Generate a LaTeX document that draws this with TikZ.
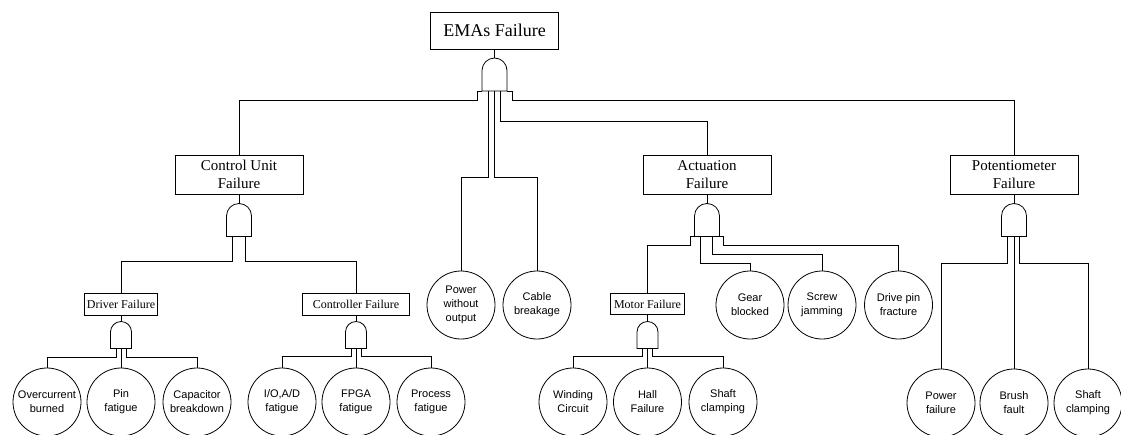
\documentclass[tikz,border=0pt]{standalone}
\usepackage{fontspec}
\setmainfont{Liberation Serif}
\newfontfamily\sansf{Liberation Sans}
\begin{document}
\begin{tikzpicture}[x=1pt,y=-1pt,line width=0.8pt,
  bigbox/.style={draw,rectangle,align=center,inner sep=0pt,minimum width=128pt,minimum height=39pt,font=\fontsize{15}{18}\selectfont},
  smallbox/.style={draw,rectangle,align=center,inner sep=0pt,minimum height=21.5pt,font=\fontsize{12}{14}\selectfont},
  bigand/.style={rectangle,inner sep=0pt,outer sep=0pt,minimum width=25pt,minimum height=33pt},
  smalland/.style={rectangle,inner sep=0pt,outer sep=0pt,minimum width=21pt,minimum height=27pt},
  event/.style={draw,circle,inner sep=0pt,minimum size=68pt,align=center,font=\sansf\fontsize{11}{14}\selectfont}]
\newcommand{\drawgate}[2]{\draw (#1.south west) -- ([yshift=-#2pt]#1.north west) arc[start angle=180,end angle=0,radius=#2pt] -- (#1.south east) -- cycle;}
\useasboundingbox (0,0) rectangle (1121,434);
\clip (0,0) rectangle (1121,434);

% top
\node[bigbox,minimum height=37pt,font=\fontsize{18}{21}\selectfont] (ema) at (494.5,30.5) {EMAs Failure};
\node[bigand] (g0) at (494.5,74.5) {};
\drawgate{g0}{12.5}
\draw (ema.south) -- (g0.north);

% level 2
\node[bigbox] (cu) at (239,174.5) {Control Unit\\Failure};
\node[bigbox] (act) at (707,174.5) {Actuation\\Failure};
\node[bigbox] (pot) at (1014,175) {Potentiometer\\Failure};
\node[event] (pw) at (461,305) {Power\\without\\output};
\node[event] (cb) at (537,305) {Cable\\breakage};

\draw (g0.south west) -- ++(-5,0) -- ++(0,9.5) -| (cu.north);
\draw (g0.south east) -- ++(5,0) -- ++(0,9.5) -| (pot.north);
\draw ([xshift=-6.5pt]g0.south) -- ++(0,86) -| (pw.north);
\draw ([xshift=-0.5pt]g0.south) -- ++(0,86) -| (cb.north);
\draw ([xshift=6.3pt]g0.south) -- ++(0,30.7) -| (act.north);

% gates level 2
\node[bigand] (cg) at (239,220) {};
\drawgate{cg}{12.5}
\draw (cu.south) -- (cg.north);
\node[bigand] (ag) at (707,220) {};
\drawgate{ag}{12.5}
\draw (act.south) -- (ag.north);
\node[bigand] (pg) at (1014,220) {};
\drawgate{pg}{12.5}
\draw (pot.south) -- (pg.north);

% control unit branch
\node[smallbox,minimum width=73pt] (drv) at (121,304.5) {Driver Failure};
\node[smallbox,minimum width=107pt] (ctl) at (356,304.5) {Controller Failure};
\draw ([xshift=-6.7pt]cg.south) -- ++(0,25) -| (drv.north);
\draw ([xshift=6.7pt]cg.south) -- ++(0,25) -| (ctl.north);

\node[smalland] (dg) at (121,335) {};
\drawgate{dg}{10.5}
\draw (drv.south) -- (dg.north);
\node[smalland] (kg) at (356,335) {};
\drawgate{kg}{10.5}
\draw (ctl.south) -- (kg.north);

\node[event] (oc) at (47,402) {Overcurrent\\burned};
\node[event] (pin) at (121,402) {Pin\\fatigue};
\node[event] (cap) at (197,402) {Capacitor\\breakdown};
\draw ([xshift=-5pt]dg.south) -- ++(0,8.5) -| (oc.north);
\draw (dg.south) -- (pin.north);
\draw ([xshift=5pt]dg.south) -- ++(0,8.5) -| (cap.north);

\node[event] (io) at (282,402) {I/O,A/D\\fatigue};
\node[event] (fpga) at (356,402) {FPGA\\fatigue};
\node[event] (proc) at (431,402) {Process\\fatigue};
\draw ([xshift=-5pt]kg.south) -- ++(0,7.5) -| (io.north);
\draw (kg.south) -- (fpga.north);
\draw ([xshift=5pt]kg.south) -- ++(0,7.5) -| (proc.north);

% actuation branch
\node[smallbox,minimum width=74pt] (mf) at (647.5,304) {Motor Failure};
\node[event] (gear) at (750,305) {Gear\\blocked};
\node[event] (screw) at (822,305) {Screw\\jamming};
\node[event] (drive) at (898.5,305) {Drive pin\\fracture};
\draw (ag.south west) -- ++(-4,0) -- ++(0,9) -| (mf.north);
\draw ([xshift=-6.3pt]ag.south) -- ++(0,26.5) -| (gear.north);
\draw ([xshift=5.7pt]ag.south) -- ++(0,18) -| (screw.north);
\draw (ag.south east) -- ++(4,0) -- ++(0,9) -| (drive.north);

\node[smalland] (mg) at (647.5,335) {};
\drawgate{mg}{10.5}
\draw (mf.south) -- (mg.north);
\node[event] (wind) at (573,402) {Winding\\Circuit};
\node[event] (hall) at (647.5,402) {Hall\\Failure};
\node[event] (shaft) at (723,402) {Shaft\\clamping};
\draw ([xshift=-5pt]mg.south) -- ++(0,7.5) -| (wind.north);
\draw (mg.south) -- (hall.north);
\draw ([xshift=5pt]mg.south) -- ++(0,7.5) -| (shaft.north);

% potentiometer branch
\node[event] (pf) at (941,403) {Power\\failure};
\node[event] (bf) at (1014,403) {Brush\\fault};
\node[event] (sc) at (1088,403) {Shaft\\clamping};
\draw ([xshift=-6.5pt]pg.south) -- ++(0,26.5) -| (pf.north);
\draw (pg.south) -- (bf.north);
\draw ([xshift=5.5pt]pg.south) -- ++(0,26.5) -| (sc.north);
\end{tikzpicture}
\end{document}
